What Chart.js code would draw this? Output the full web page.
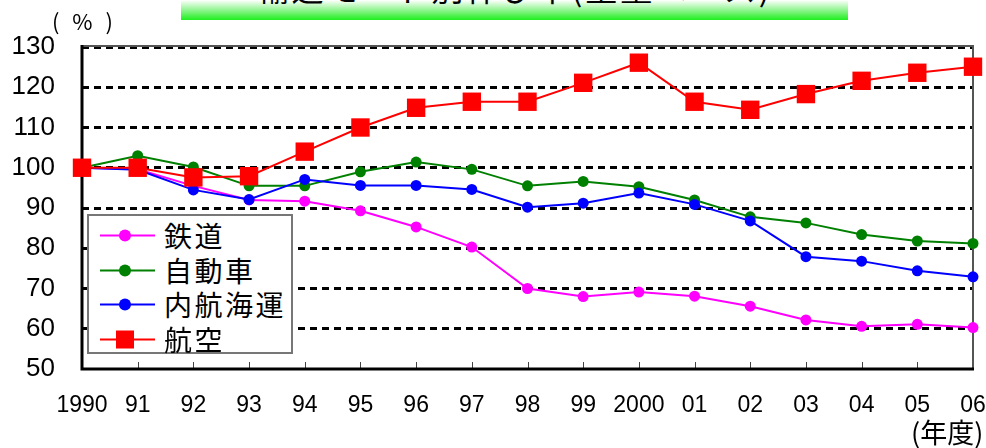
<!DOCTYPE html>
<html>
<head>
<meta charset="utf-8">
<script src="https://cdn.jsdelivr.net/npm/chart.js@4/dist/chart.umd.min.js"></script>
<style>
  body { margin: 0; background: #fff; }
  #wrap { position: relative; width: 986px; height: 448px; overflow: hidden; }
  canvas { position: absolute; left: 0; top: 0; }
  .cjk { font-family: 'Noto Sans CJK JP', sans-serif; color: #000; }
  #title {
    position: absolute; left: 181px; top: 0; width: 667px; height: 20px; overflow: hidden;
    background: linear-gradient(to bottom, #ffffff 0%, #9cf59c 45%, #1fef1f 100%);
  }
  #title span {
    position: absolute; left: 0; width: 100%; top: -29px; text-align: center;
    font-size: 32px; line-height: 32px; letter-spacing: 3px; white-space: nowrap;
  }
  #unit { position: absolute; left: 52px; top: 4px; font-size: 22px; letter-spacing: 4px; white-space: pre; }
  #year { position: absolute; left: 911px; top: 417px; font-size: 27px; line-height: 30px; white-space: nowrap; }
  #legend {
    position: absolute; left: 87px; top: 214px; width: 202px; height: 136px;
    border: 2px solid #777; background: #fff;
  }
  .row { position: absolute; left: 0; height: 35px; width: 202px; }
  .row svg { position: absolute; left: 11px; top: 0; }
  .row span {
    position: absolute; left: 75px; top: 0; line-height: 35px; font-size: 28px; letter-spacing: 2.5px;
  }
</style>
</head>
<body>
<div id="wrap">
  <canvas id="myChart" width="986" height="448"></canvas>
  <div id="title" class="cjk"><span>輸送モード別伸び率(重量ベース)</span></div>
  <div id="unit" class="cjk">( % )</div>
  <div id="year" class="cjk">(年度)</div>
  <div id="legend" class="cjk"></div>
</div>
<script>
const years = ['1990', '91', '92', '93', '94', '95', '96', '97', '98', '99', '2000', '01', '02', '03', '04', '05', '06'];
const rail = [100, 99.6, 95.5, 92.0, 91.7, 89.3, 85.3, 80.3, 70.0, 68.0, 69.1, 68.1, 65.6, 62.2, 60.6, 61.1, 60.3];
const car = [100, 103.0, 100.2, 95.5, 95.5, 99.0, 101.4, 99.6, 95.5, 96.6, 95.3, 92.0, 87.8, 86.3, 83.4, 81.8, 81.2];
const ship = [100, 99.5, 94.5, 92.1, 97.1, 95.6, 95.6, 94.6, 90.2, 91.2, 93.7, 90.9, 86.8, 77.9, 76.8, 74.4, 72.9];
const air = [100, 100, 97.6, 97.9, 104.0, 110.0, 114.9, 116.4, 116.4, 121.1, 126.1, 116.4, 114.4, 118.3, 121.6, 123.6, 125.1];

const seriesNames = ['鉄道', '自動車', '内航海運', '航空'];
const seriesColors = ['#ff00ff', '#008000', '#0000ff', '#ff0000'];

const lineSet = (label, data, color, order, square) => ({
  label,
  data,
  borderColor: color,
  backgroundColor: color,
  borderWidth: 2,
  pointStyle: square ? 'rect' : 'circle',
  pointRadius: square ? 13 : 5.5,
  pointBorderWidth: 0,
  pointHoverRadius: square ? 13 : 5.5,
  tension: 0,
  clip: false,
  order,
});

// frame + inward x ticks, drawn under the data
const framePlugin = {
  id: 'frame',
  beforeDatasetsDraw(chart) {
    const { ctx, chartArea: a, scales: { x } } = chart;
    ctx.save();
    ctx.strokeStyle = '#444';
    ctx.lineWidth = 1;
    x.ticks.forEach((t, i) => {
      if (i === 0 || i === x.ticks.length - 1) return;
      const px = Math.round(x.getPixelForTick(i)) + 0.5;
      ctx.beginPath();
      ctx.moveTo(px, a.bottom);
      ctx.lineTo(px, a.bottom - 7);
      ctx.stroke();
    });
    ctx.strokeStyle = '#555';
    ctx.lineWidth = 2;
    ctx.beginPath();
    ctx.moveTo(a.left, a.top - 1);
    ctx.lineTo(a.right, a.top - 1);
    ctx.lineTo(a.right, a.bottom);
    ctx.stroke();
    ctx.strokeStyle = '#000';
    ctx.lineWidth = 3;
    ctx.beginPath();
    ctx.moveTo(a.left, a.top - 2);
    ctx.lineTo(a.left, a.bottom);
    ctx.lineTo(a.right + 1, a.bottom);
    ctx.stroke();
    ctx.restore();
  },
};

new Chart(document.getElementById('myChart'), {
  type: 'line',
  data: {
    labels: years,
    datasets: [
      lineSet(seriesNames[0], rail, seriesColors[0], 3, false),
      lineSet(seriesNames[1], car, seriesColors[1], 2, false),
      lineSet(seriesNames[2], ship, seriesColors[2], 1, false),
      lineSet(seriesNames[3], air, seriesColors[3], 0, true),
    ],
  },
  options: {
    responsive: false,
    animation: false,
    layout: { padding: { left: 0, top: 47, right: 13, bottom: 0 } },
    plugins: { legend: { display: false }, tooltip: { enabled: false } },
    scales: {
      x: {
        offset: false,
        grid: { display: false, drawTicks: false },
        border: { display: false },
        ticks: {
          color: '#000',
          font: { family: "'Liberation Sans Narrow', 'Liberation Sans', Arial", size: 23 },
          padding: 23,
          maxRotation: 0,
          autoSkip: false,
        },
        afterFit: (s) => { s.height = 79; s.paddingLeft = 0; s.paddingRight = 0; },
      },
      y: {
        min: 50,
        max: 130,
        grid: {
          drawTicks: false,
          lineWidth: 3,
          color: (c) => (c.tick && (c.tick.value === 50) ? 'rgba(0,0,0,0)' : '#000'),
        },
        border: { display: false, dash: [7, 5] },
        ticks: {
          stepSize: 10,
          color: '#000',
          font: { family: "'Liberation Sans', Arial", size: 26 },
          padding: 27,
        },
        afterFit: (s) => { s.width = 82; s.paddingTop = 0; s.paddingBottom = 0; },
      },
    },
  },
  plugins: [framePlugin],
});

// legend inside the plot, built from the same series
const legend = document.getElementById('legend');
seriesNames.forEach((name, i) => {
  const c = seriesColors[i];
  const mark = i === 3
    ? `<rect x="16" y="8.5" width="18" height="18" fill="${c}"/>`
    : `<circle cx="25" cy="17.5" r="6" fill="${c}"/>`;
  const row = document.createElement('div');
  row.className = 'row';
  row.style.top = (2 + i * 34.5) + 'px';
  row.innerHTML = `<svg width="60" height="35"><line x1="0" y1="17.5" x2="55" y2="17.5" stroke="${c}" stroke-width="2"/>${mark}</svg><span>${name}</span>`;
  legend.appendChild(row);
});
</script>
</body>
</html>
